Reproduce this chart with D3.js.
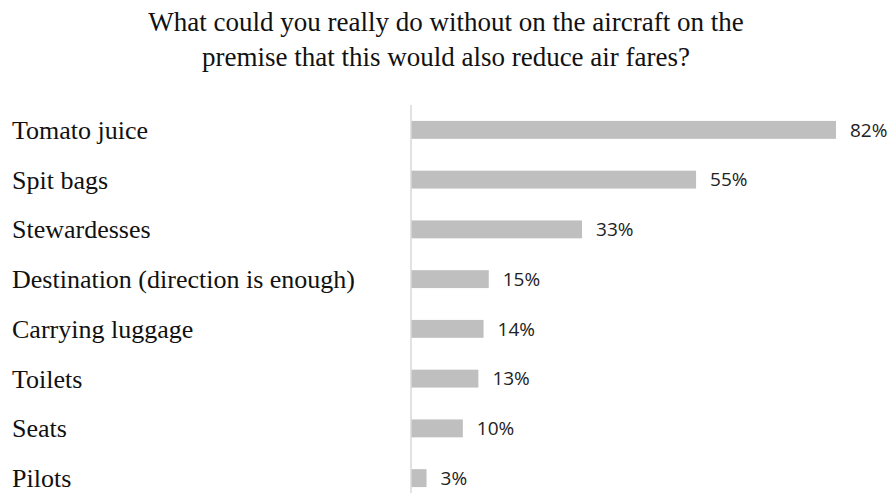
<!DOCTYPE html>
<html>
<head>
<meta charset="utf-8">
<script src="https://cdn.jsdelivr.net/npm/d3@7"></script>
<style>
  body { margin: 0; background: #fff; }
</style>
</head>
<body>
<script>
const categories = ["Tomato juice", "Spit bags", "Stewardesses", "Destination (direction is enough)",
  "Carrying luggage", "Toilets", "Seats", "Pilots"];
const values = [82, 55, 33, 15, 14, 13, 10, 3];
const titleLines = ["What could you really do without on the aircraft on the",
  "premise that this would also reduce air fares?"];

const width = 894, height = 493;
const x0 = 411;

const svg = d3.select("body").append("svg")
    .attr("width", width)
    .attr("height", height);

const x = d3.scaleLinear()
    .domain([0, 82])
    .range([x0, 836]);

const y = d3.scaleBand()
    .domain(categories)
    .range([105, 503])
    .paddingInner(0.64)
    .paddingOuter(0.32);

svg.append("g")
    .attr("font-family", "'Liberation Serif', serif")
    .attr("font-size", 27)
    .attr("text-anchor", "middle")
    .attr("fill", "#111")
  .selectAll("text")
  .data(titleLines)
  .join("text")
    .attr("x", 446)
    .attr("y", (d, i) => 31 + i * 35)
    .text(d => d);

svg.append("g")
  .selectAll("rect")
  .data(values)
  .join("rect")
    .attr("x", x(0))
    .attr("y", (d, i) => y(categories[i]))
    .attr("width", d => x(d) - x(0))
    .attr("height", y.bandwidth())
    .attr("fill", "#bfbfbf");

svg.append("line")
    .attr("x1", x0).attr("x2", x0)
    .attr("y1", 105).attr("y2", height)
    .attr("stroke", "#d9d9d9")
    .attr("stroke-width", 1.5);

svg.append("g")
    .attr("font-family", "'Liberation Serif', serif")
    .attr("font-size", 26)
    .attr("fill", "#111")
  .selectAll("text")
  .data(categories)
  .join("text")
    .attr("x", 12)
    .attr("y", d => y(d) + y.bandwidth() / 2 + 9)
    .text(d => d);

svg.append("g")
    .attr("font-family", "'Open Sans', sans-serif")
    .attr("font-size", 19)
    .attr("fill", "#222")
  .selectAll("text")
  .data(values)
  .join("text")
    .attr("x", d => x(d) + 14)
    .attr("y", (d, i) => y(categories[i]) + y.bandwidth() / 2)
    .attr("dy", "0.36em")
    .text(d => d + "%");
</script>
</body>
</html>
